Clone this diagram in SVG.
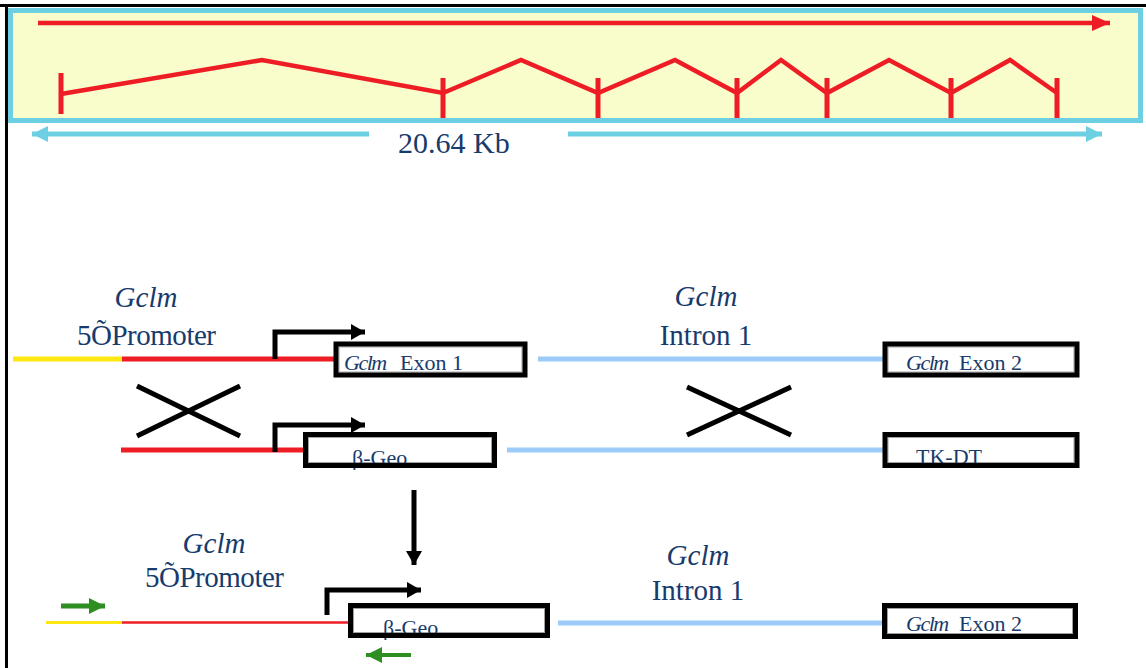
<svg xmlns="http://www.w3.org/2000/svg" width="1146" height="668" viewBox="0 0 1146 668">
  <defs>
    <style>
      .lbl { font-family: "Liberation Serif", "Times New Roman", serif; fill: #173b6c; }
      .big { font-size: 29px; }
      .box { font-size: 22px; }
      .it { font-style: italic; }
      .bx { fill: #ffffff; }
      .bxs { fill: none; stroke: #000000; stroke-width: 5; }
      .bxi { fill: none; stroke: #a0a0a0; stroke-width: 1; }
      .red { stroke: #ee1c24; fill: none; }
      .blu { stroke: #9ccbf7; stroke-width: 5; fill: none; }
      .yel { stroke: #ffe812; fill: none; }
      .blk { stroke: #000000; stroke-width: 5; fill: none; }
    </style>
    <marker id="headRed" markerUnits="userSpaceOnUse" markerWidth="20" markerHeight="18" refX="18" refY="8" orient="auto">
      <path d="M0,0 L18,8 L0,16 Z" fill="#ee1c24"/>
    </marker>
    <marker id="headCyan" markerUnits="userSpaceOnUse" markerWidth="18" markerHeight="18" refX="16" refY="8" orient="auto">
      <path d="M0,0 L16,8 L0,16 Z" fill="#6dd0e2"/>
    </marker>
    <marker id="headBlack" markerUnits="userSpaceOnUse" markerWidth="16" markerHeight="18" refX="14" refY="8" orient="auto">
      <path d="M0,0 L14,8 L0,16 Z" fill="#000000"/>
    </marker>
    <marker id="headGreen" markerUnits="userSpaceOnUse" markerWidth="18" markerHeight="18" refX="16" refY="8" orient="auto">
      <path d="M0,0 L16,8 L0,16 Z" fill="#2f8e22"/>
    </marker>
  </defs>

  <rect width="1146" height="668" fill="#ffffff"/>

  <!-- outer frame: top and left edges only -->
  <g id="frame">
    <line x1="0" y1="5.5" x2="1146" y2="5.5" stroke="#000000" stroke-width="3"/>
    <line x1="6.5" y1="4" x2="6.5" y2="668" stroke="#000000" stroke-width="3"/>
  </g>

  <!-- gene structure panel -->
  <g id="gene-panel">
    <rect x="10.5" y="10.5" width="1130" height="110" fill="#f9fccb" stroke="#6dd0e2" stroke-width="5"/>
    <line class="red" x1="38" y1="23" x2="1110" y2="23" stroke-width="4.5" marker-end="url(#headRed)"/>
    <polyline class="red" stroke-width="4.5" stroke-linejoin="miter"
      points="61,94 262,60 443,93 521,60 598,93 675,60 737,93 781,60 827,93 889,60 951,93 1010,60 1057,93"/>
    <g class="red" stroke-width="5">
      <line x1="61" y1="73" x2="61" y2="114"/>
      <line x1="443" y1="78" x2="443" y2="118"/>
      <line x1="598" y1="78" x2="598" y2="118"/>
      <line x1="737" y1="78" x2="737" y2="118"/>
      <line x1="827" y1="78" x2="827" y2="118"/>
      <line x1="951" y1="78" x2="951" y2="118"/>
      <line x1="1057" y1="78" x2="1057" y2="118"/>
    </g>
  </g>

  <!-- length scale -->
  <g id="scale">
    <line x1="369" y1="134" x2="32" y2="134" stroke="#6dd0e2" stroke-width="5" marker-end="url(#headCyan)"/>
    <line x1="568" y1="134" x2="1102" y2="134" stroke="#6dd0e2" stroke-width="5" marker-end="url(#headCyan)"/>
    <text class="lbl" x="398" y="153" font-size="30">20.64 Kb</text>
  </g>

  <!-- labels -->
  <g id="labels">
    <text class="lbl big it" x="146" y="307" text-anchor="middle">Gclm</text>
    <text class="lbl big" x="77" y="345" textLength="139" lengthAdjust="spacing">5ÕPromoter</text>
    <text class="lbl big it" x="706" y="306" text-anchor="middle">Gclm</text>
    <text class="lbl big" x="706" y="345" text-anchor="middle">Intron 1</text>
    <text class="lbl big it" x="214" y="553" text-anchor="middle">Gclm</text>
    <text class="lbl big" x="145" y="587" textLength="139" lengthAdjust="spacing">5ÕPromoter</text>
    <text class="lbl big it" x="698" y="565" text-anchor="middle">Gclm</text>
    <text class="lbl big" x="698" y="600" text-anchor="middle">Intron 1</text>
  </g>

  <!-- connectors: DNA strands, promoter arrows, crossovers, primers -->
  <g id="connectors">
    <!-- wild-type locus -->
    <line class="yel" x1="13" y1="359" x2="122" y2="359" stroke-width="5"/>
    <line class="red" x1="122" y1="359" x2="336" y2="359" stroke-width="5"/>
    <line class="blu" x1="538" y1="359" x2="884" y2="359"/>
    <polyline class="blk" points="275,359 275,332 365,332" marker-end="url(#headBlack)"/>
    <!-- targeting vector -->
    <line class="red" x1="121" y1="450" x2="305" y2="450" stroke-width="5"/>
    <line class="blu" x1="507" y1="450" x2="884" y2="450"/>
    <polyline class="blk" points="275,452 275,425 365,425" marker-end="url(#headBlack)"/>
    <!-- crossovers -->
    <path class="blk" d="M137,386 L240,436 M137,436 L240,386"/>
    <path class="blk" d="M687,387 L791,435 M687,435 L791,387"/>
    <!-- recombination arrow -->
    <line class="blk" x1="414" y1="490" x2="414" y2="565" marker-end="url(#headBlack)"/>
    <!-- targeted allele -->
    <line class="yel" x1="46" y1="622.5" x2="122" y2="622.5" stroke-width="3"/>
    <line class="red" x1="122" y1="622.5" x2="350" y2="622.5" stroke-width="2.5"/>
    <line class="blu" x1="558" y1="623" x2="884" y2="623"/>
    <polyline class="blk" points="327,615 327,590 421,590" marker-end="url(#headBlack)"/>
    <!-- PCR primers -->
    <line x1="61" y1="606" x2="105" y2="606" stroke="#2f8e22" stroke-width="5" marker-end="url(#headGreen)"/>
    <line x1="411" y1="655" x2="366" y2="655" stroke="#2f8e22" stroke-width="4" marker-end="url(#headGreen)"/>
  </g>

  <!-- exon / cassette boxes -->
  <g id="exon1">
    <rect class="bx" x="336" y="344" width="189" height="31"/>
    <rect class="bxi" x="339" y="347" width="183" height="25"/>
    <text class="lbl box it" x="344" y="370" letter-spacing="-1.5">Gclm</text>
    <text class="lbl box" x="400" y="370">Exon 1</text>
    <rect class="bxs" x="336" y="344" width="189" height="31"/>
  </g>
  <g id="exon2">
    <rect class="bx" x="885" y="344" width="192" height="31"/>
    <rect class="bxi" x="888" y="347" width="186" height="25"/>
    <text class="lbl box it" x="906" y="370" letter-spacing="-1.5">Gclm</text>
    <text class="lbl box" x="959" y="370">Exon 2</text>
    <rect class="bxs" x="885" y="344" width="192" height="31"/>
  </g>
  <g id="bgeo1">
    <rect class="bx" x="305.5" y="434.5" width="189" height="31"/>
    <rect class="bxi" x="308.5" y="437.5" width="183" height="25"/>
    <text class="lbl box" x="352" y="465">β-Geo</text>
    <rect class="bxs" x="305.5" y="434.5" width="189" height="31"/>
  </g>
  <g id="tkdt">
    <rect class="bx" x="885" y="434.5" width="192" height="31"/>
    <rect class="bxi" x="888" y="437.5" width="186" height="25"/>
    <text class="lbl box" x="916" y="464">TK-DT</text>
    <rect class="bxs" x="885" y="434.5" width="192" height="31"/>
  </g>
  <g id="bgeo2">
    <rect class="bx" x="350.5" y="605.5" width="197" height="30"/>
    <rect class="bxi" x="353.5" y="608.5" width="191" height="24"/>
    <text class="lbl box" x="383" y="635">β-Geo</text>
    <rect class="bxs" x="350.5" y="605.5" width="197" height="30"/>
  </g>
  <g id="exon2b">
    <rect class="bx" x="884.5" y="605.5" width="191" height="31"/>
    <rect class="bxi" x="887.5" y="608.5" width="185" height="25"/>
    <text class="lbl box it" x="906" y="631" letter-spacing="-1.5">Gclm</text>
    <text class="lbl box" x="959" y="631">Exon 2</text>
    <rect class="bxs" x="884.5" y="605.5" width="191" height="31"/>
  </g>
</svg>
